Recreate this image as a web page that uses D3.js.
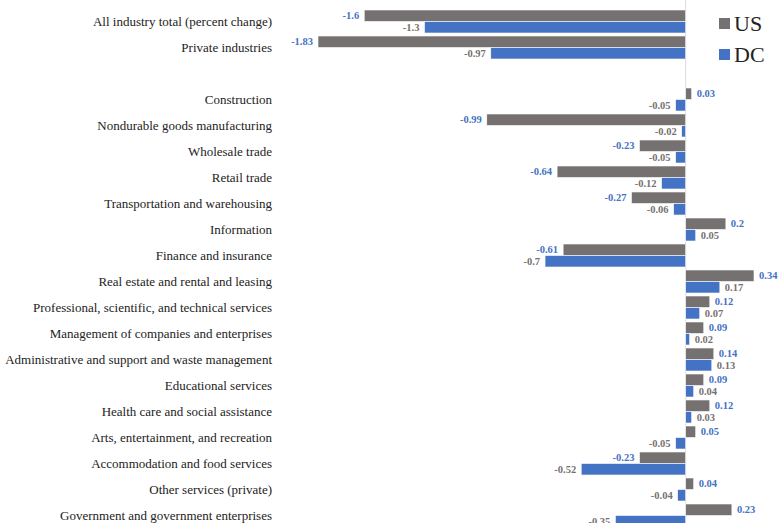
<!DOCTYPE html>
<html>
<head>
<meta charset="utf-8">
<script src="https://cdn.jsdelivr.net/npm/d3@7"></script>
<style>
  body { margin: 0; background: #fff; }
  text { font-family: 'Liberation Serif', 'Times New Roman', 'DejaVu Serif', serif; }
</style>
</head>
<body>
<script>
var WIDTH = 779;
var HEIGHT = 523;

// a blank row sits between Private industries and Construction
var categories = [
  'All industry total (percent change)',
  'Private industries',
  '',
  'Construction',
  'Nondurable goods manufacturing',
  'Wholesale trade',
  'Retail trade',
  'Transportation and warehousing',
  'Information',
  'Finance and insurance',
  'Real estate and rental and leasing',
  'Professional, scientific, and technical services',
  'Management of companies and enterprises',
  'Administrative and support and waste management',
  'Educational services',
  'Health care and social assistance',
  'Arts, entertainment, and recreation',
  'Accommodation and food services',
  'Other services (private)',
  'Government and government enterprises'
];
var seriesNames = ['US', 'DC'];
var usValues = [-1.6, -1.83, null, 0.03, -0.99, -0.23, -0.64, -0.27, 0.2, -0.61, 0.34, 0.12, 0.09, 0.14, 0.09, 0.12, 0.05, -0.23, 0.04, 0.23];
var dcValues = [-1.3, -0.97, null, -0.05, -0.02, -0.05, -0.12, -0.06, 0.05, -0.7, 0.17, 0.07, 0.02, 0.13, 0.04, 0.03, -0.05, -0.52, -0.04, -0.35];

var barColors = ['#767171', '#4472c4'];
// the labels are swapped in the original: US values in blue, DC values in grey
var labelColors = ['#4472c4', '#767171'];

var rows = categories.map(function (c, i) {
  return { name: c, values: [usValues[i], dcValues[i]] };
});

var x = d3.scaleLinear()
  .domain([-1.83, 0.34])
  .range([318, 754]);

var y = d3.scaleBand()
  .domain(d3.range(categories.length))
  .range([8.5, 8.5 + 26 * categories.length])
  .paddingInner(0.115)
  .paddingOuter(0.0575);

var sub = d3.scaleBand()
  .domain([0, 1])
  .range([0, y.bandwidth()]);

var svg = d3.select('body').append('svg')
  .attr('width', WIDTH)
  .attr('height', HEIGHT)
  .style('display', 'block');

// zero line
svg.append('line')
  .attr('x1', x(0)).attr('x2', x(0))
  .attr('y1', 0).attr('y2', HEIGHT)
  .attr('stroke', '#d9d9d9')
  .attr('stroke-width', 1);

var row = svg.selectAll('g.row')
  .data(rows)
  .enter()
  .append('g')
  .attr('class', 'row')
  .attr('transform', function (d, i) { return 'translate(0,' + y(i) + ')'; });

row.append('text')
  .attr('x', 272)
  .attr('y', y.bandwidth() / 2)
  .attr('dy', '0.35em')
  .attr('text-anchor', 'end')
  .style('font-size', '13px')
  .style('fill', '#222')
  .text(function (d) { return d.name; });

var cells = row.selectAll('g.cell')
  .data(function (d) {
    return d.values.map(function (v, k) { return { v: v, k: k }; })
      .filter(function (e) { return e.v !== null; });
  })
  .enter()
  .append('g')
  .attr('class', 'cell');

cells.append('rect')
  .attr('x', function (d) { return Math.min(x(0), x(d.v)); })
  .attr('y', function (d) { return sub(d.k); })
  .attr('width', function (d) { return Math.abs(x(d.v) - x(0)); })
  .attr('height', sub.bandwidth())
  .attr('fill', function (d) { return barColors[d.k]; })
  .attr('stroke', '#fff')
  .attr('stroke-width', 0.6);

cells.append('text')
  .attr('x', function (d) { return d.v < 0 ? x(d.v) - 5 : x(d.v) + 5; })
  .attr('y', function (d) { return sub(d.k) + sub.bandwidth() / 2; })
  .attr('dy', '0.35em')
  .attr('text-anchor', function (d) { return d.v < 0 ? 'end' : 'start'; })
  .style('font-size', '10.5px')
  .style('font-weight', 'bold')
  .style('fill', function (d) { return labelColors[d.k]; })
  .text(function (d) { return d.v; });

// legend
var legend = svg.selectAll('g.legend')
  .data(seriesNames)
  .enter()
  .append('g')
  .attr('class', 'legend')
  .attr('transform', function (d, i) { return 'translate(719,' + (18 + i * 31) + ')'; });

legend.append('rect')
  .attr('width', 11)
  .attr('height', 11)
  .attr('fill', function (d, i) { return barColors[i]; });

legend.append('text')
  .attr('x', 15)
  .attr('y', 13)
  .style('font-size', '22px')
  .style('fill', '#222')
  .text(function (d) { return d; });
</script>
</body>
</html>
